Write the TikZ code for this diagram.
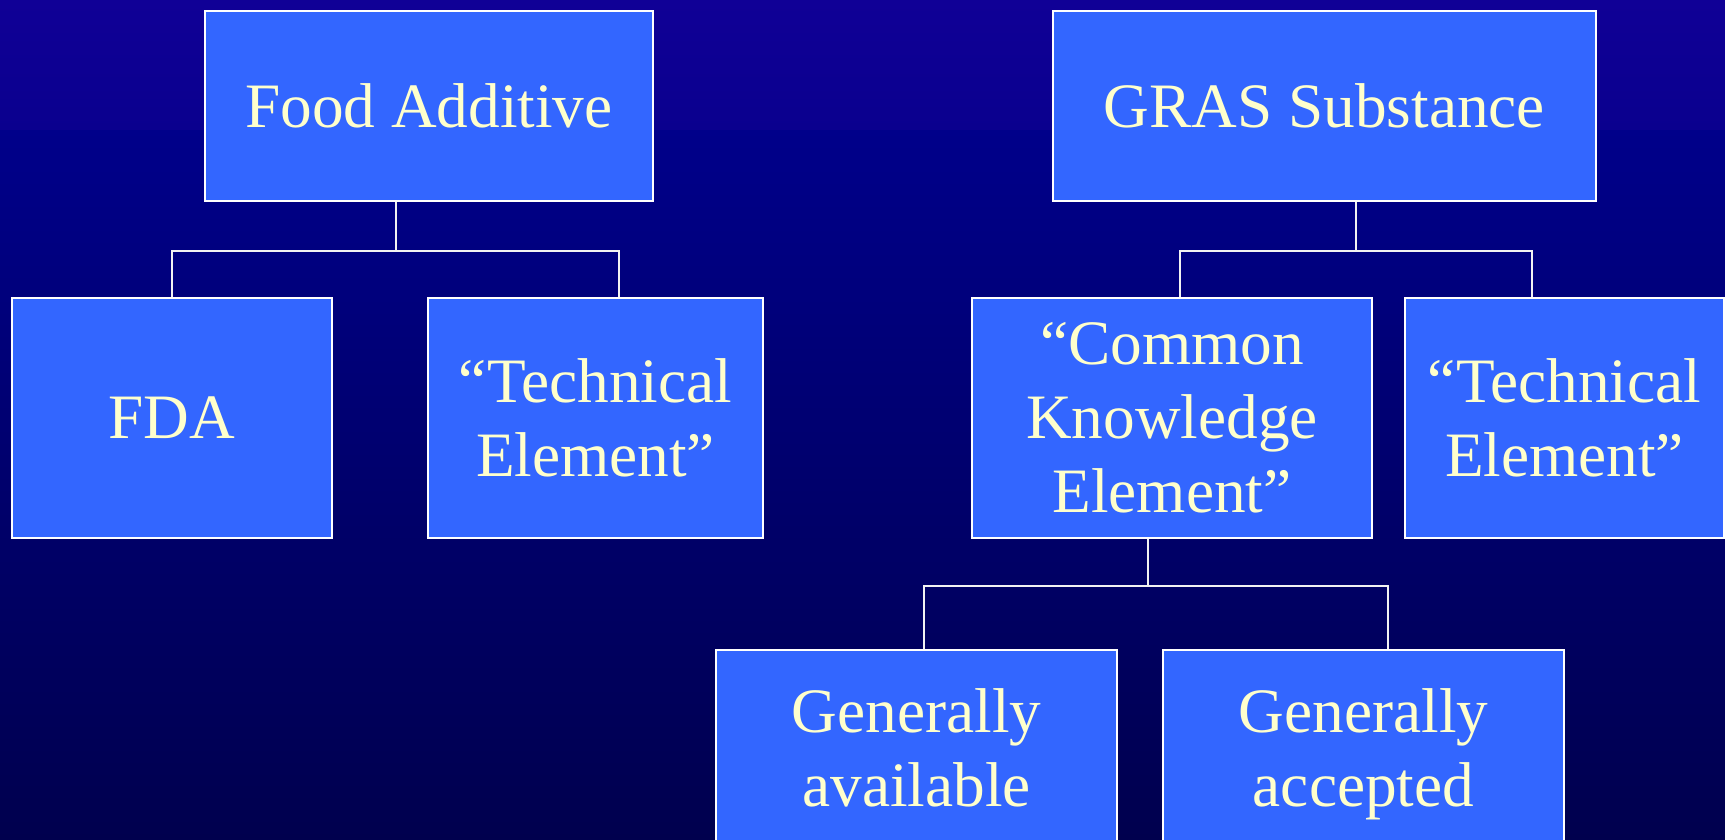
\documentclass[tikz,border=0pt]{standalone}
\usepackage{fontspec}
\setmainfont{Liberation Serif}
\definecolor{bgtop}{RGB}{16,0,150}
\definecolor{bgband}{RGB}{10,0,142}
\definecolor{bgmid}{RGB}{0,0,138}
\definecolor{bgbot}{RGB}{0,0,78}
\definecolor{boxfill}{RGB}{51,102,255}
\definecolor{boxtext}{RGB}{255,255,204}
\begin{document}
\begin{tikzpicture}[
    box/.style={draw=white, line width=0.6pt, fill=boxfill, text=boxtext, inner sep=0pt,
        align=center, font=\fontsize{18}{21}\selectfont},
    link/.style={draw=white!90!gray, line width=0.45pt}
]
    % Background
    \useasboundingbox (0,0) rectangle (17.25,-8.39);
    \shade[top color=bgtop, bottom color=bgband] (0,0) rectangle (17.25,-1.31);
    \shade[top color=bgmid, bottom color=bgbot] (0,-1.30) rectangle (17.25,-8.39);

    % Top row
    \node[box, minimum width=4.48cm, minimum height=1.90cm] (fa) at (4.29,-1.06) {Food Additive};
    \node[box, minimum width=5.43cm, minimum height=1.90cm] (gras) at (13.245,-1.06) {GRAS Substance};

    % Middle row
    \node[box, minimum width=3.20cm, minimum height=2.40cm] (fda) at (1.72,-4.18) {FDA};
    \node[box, minimum width=3.35cm, minimum height=2.40cm] (tel) at (5.955,-4.18) {``Technical\\Element''};
    \node[box, minimum width=4.00cm, minimum height=2.40cm] (cke) at (11.72,-4.18) {``Common\\Knowledge\\Element''};
    \node[box, minimum width=3.19cm, minimum height=2.40cm] (ter) at (15.645,-4.18) {``Technical\\Element''};

    % Bottom row (cut off by the page edge)
    \node[box, minimum width=4.01cm, minimum height=2.10cm] (gav) at (9.165,-7.55) {\strut Generally\\\strut available};
    \node[box, minimum width=4.01cm, minimum height=2.10cm] (gac) at (13.635,-7.55) {\strut Generally\\\strut accepted};

    % Joints of the connectors
    \coordinate (faj) at (3.96,-2.51);
    \coordinate (grasj) at (13.56,-2.51);
    \coordinate (ckej) at (11.48,-5.86);

    % Connectors
    \draw[link] (fa.south -| faj) -- (faj);
    \draw[link] (fda.north) |- (faj) -| ([xshift=2.35mm]tel.north);
    \draw[link] (gras.south -| grasj) -- (grasj);
    \draw[link] ([xshift=0.8mm]cke.north) |- (grasj) -| ([xshift=-3.25mm]ter.north);
    \draw[link] (cke.south -| ckej) -- (ckej);
    \draw[link] ([xshift=0.75mm]gav.north) |- (ckej) -| ([xshift=2.45mm]gac.north);
\end{tikzpicture}
\end{document}
